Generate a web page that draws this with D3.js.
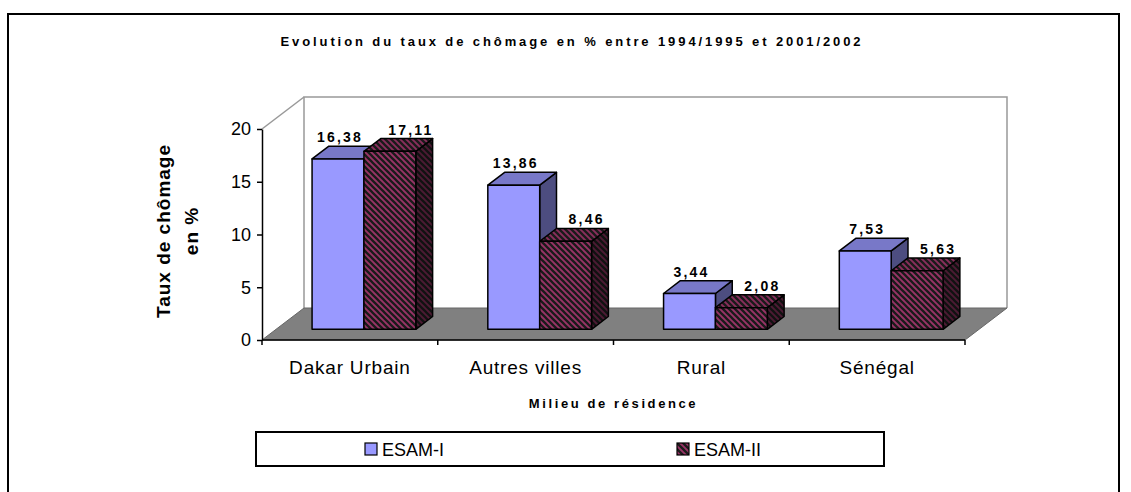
<!DOCTYPE html>
<html><head><meta charset="utf-8">
<script src="https://cdn.jsdelivr.net/npm/d3@7"></script>
<style>body{margin:0;background:#fff}svg{display:block}text{font-family:Arial,"Liberation Sans",sans-serif}</style>
</head><body>
<script>
const categories = ["Dakar Urbain", "Autres villes", "Rural", "Sénégal"];
const seriesNames = ["ESAM-I", "ESAM-II"];
const esam1 = [16.38, 13.86, 3.44, 7.53];
const esam2 = [17.11, 8.46, 2.08, 5.63];
const yTicks = [0, 5, 10, 15, 20];
const chartTitle = "Evolution du taux de chômage en % entre 1994/1995 et 2001/2002";
const yTitle = ["Taux de chômage", "en %"];
const xTitle = "Milieu de résidence";

const W = 1131, H = 492;
const svg = d3.select("body").append("svg").attr("width", W).attr("height", H);
const defs = svg.append("defs");
function stripe(id, bg, fg) {
  const p = defs.append("pattern").attr("id", id).attr("patternUnits", "userSpaceOnUse")
    .attr("width", 6).attr("height", 6);
  p.append("rect").attr("width", 6).attr("height", 6).attr("fill", bg);
  p.append("path").attr("d", "M-1.5,-1.5L7.5,7.5M-1.5,4.5L1.5,7.5M4.5,-1.5L7.5,1.5")
    .attr("stroke", fg).attr("stroke-width", 2.3);
}
stripe("s2front", "#993366", "#1a1a1a");
stripe("s2top", "#8a2e5c", "#1a1a1a");
stripe("s2side", "#4d1a33", "#111");

const styles = [
  {front: "#9999ff", top: "#7878c8", side: "#4d4d80"},
  {front: "url(#s2front)", top: "url(#s2top)", side: "url(#s2side)"}
];
const labelShift = [2, 21];

// outer frame
svg.append("rect").attr("x", 8).attr("y", 14).attr("width", 1111).attr("height", 500)
  .attr("fill", "none").attr("stroke", "#000").attr("stroke-width", 2);

const x = d3.scaleBand().domain(categories).range([262, 965]);
const xs = d3.scaleBand().domain([0, 1]).range([36, x.bandwidth() - 36]);
const y = d3.scaleLinear().domain([0, 20]).range([340, 129]);
const yBar = d3.scaleLinear().domain([0, 20]).range([340, 132]);

const wall = {dx: 42, dy: -32};
const f0 = 0.335, fd = 0.4;
const ox = wall.dx * f0, oy = wall.dy * f0;
const bdx = wall.dx * fd, bdy = wall.dy * fd;

const [x0, x1] = x.range();
const yb = y(0), yt = y(20);
// back wall
svg.append("path")
  .attr("d", `M${x0 + wall.dx},${yb + wall.dy}L${x0 + wall.dx},${yt + wall.dy}L${x1 + wall.dx},${yt + wall.dy}L${x1 + wall.dx},${yb + wall.dy}`)
  .attr("fill", "#fff").attr("stroke", "#999").attr("stroke-width", 1.5);
// left wall top edge
svg.append("path").attr("d", `M${x0},${yt}L${x0 + wall.dx},${yt + wall.dy}`)
  .attr("stroke", "#999").attr("stroke-width", 1.5).attr("fill", "none");
// floor
svg.append("path")
  .attr("d", `M${x0},${yb}L${x1},${yb}L${x1 + wall.dx},${yb + wall.dy}L${x0 + wall.dx},${yb + wall.dy}Z`)
  .attr("fill", "#808080").attr("stroke", "#666").attr("stroke-width", 1);

// bars
const series = [esam1, esam2];
const gBars = svg.append("g");
categories.forEach((c, i) => {
  series.forEach((vals, s) => {
    const v = vals[i];
    const bx = x(c) + xs(s) + ox, bw = xs.bandwidth();
    const top = yBar(v) + oy, bot = yBar(0) + oy;
    const g = gBars.append("g").attr("stroke", "#000").attr("stroke-width", 1.5).attr("stroke-linejoin", "round");
    g.append("path").attr("fill", styles[s].side)
      .attr("d", `M${bx + bw},${top}L${bx + bw + bdx},${top + bdy}L${bx + bw + bdx},${bot + bdy}L${bx + bw},${bot}Z`);
    g.append("path").attr("fill", styles[s].top)
      .attr("d", `M${bx},${top}L${bx + bw},${top}L${bx + bw + bdx},${top + bdy}L${bx + bdx},${top + bdy}Z`);
    g.append("rect").attr("x", bx).attr("y", top).attr("width", bw).attr("height", bot - top)
      .attr("fill", styles[s].front);
    svg.append("text").attr("x", bx + bw / 2 + labelShift[s]).attr("y", top + bdy - 4)
      .attr("text-anchor", "middle").attr("font-size", 14).attr("font-weight", "bold")
      .attr("letter-spacing", 2.2)
      .text(v.toFixed(2).replace(".", ","));
  });
});

// y axis
const yAxis = svg.append("g").attr("transform", `translate(${x0},0)`)
  .call(d3.axisLeft(y).tickValues(yTicks).tickSize(5).tickPadding(6).tickSizeOuter(0));
yAxis.select(".domain").attr("stroke", "#000").attr("stroke-width", 1.5);
yAxis.selectAll(".tick line").attr("stroke", "#000").attr("stroke-width", 1.5);
yAxis.selectAll("text").attr("font-size", 18).attr("font-family", "Arial,'Liberation Sans',sans-serif").attr("fill", "#000");

// x axis
svg.append("line").attr("x1", x0).attr("x2", x1).attr("y1", yb).attr("y2", yb)
  .attr("stroke", "#000").attr("stroke-width", 1.5);
svg.selectAll(".xtick").data(categories.map(c => x(c)).concat([x1])).enter().append("line")
  .attr("x1", d => d).attr("x2", d => d).attr("y1", yb).attr("y2", yb + 5)
  .attr("stroke", "#000").attr("stroke-width", 1.5);
svg.selectAll(".xlab").data(categories).enter().append("text")
  .attr("x", d => x(d) + x.bandwidth() / 2).attr("y", 374)
  .attr("text-anchor", "middle").attr("font-size", 19).attr("letter-spacing", 0.8).text(d => d);

// titles
svg.append("text").attr("x", 572).attr("y", 46).attr("text-anchor", "middle")
  .attr("font-size", 13).attr("font-weight", "bold").attr("letter-spacing", 2.9).text(chartTitle);
svg.append("text").attr("x", (x0 + x1) / 2).attr("y", 408).attr("text-anchor", "middle")
  .attr("font-size", 13).attr("font-weight", "bold").attr("letter-spacing", 2.6).text(xTitle);
const yt1 = svg.append("text").attr("transform", "translate(170,231) rotate(-90)")
  .attr("text-anchor", "middle").attr("font-size", 19).attr("font-weight", "bold").attr("letter-spacing", 1);
yTitle.forEach((t, i) => yt1.append("tspan").attr("x", 0).attr("dy", i === 0 ? 0 : 28).text(t));

// legend
svg.append("rect").attr("x", 256).attr("y", 432).attr("width", 628).attr("height", 34)
  .attr("fill", "#fff").attr("stroke", "#000").attr("stroke-width", 2);
const legX = [365, 677];
seriesNames.forEach((n, s) => {
  svg.append("rect").attr("x", legX[s]).attr("y", 443).attr("width", 12).attr("height", 12)
    .attr("fill", styles[s].front).attr("stroke", "#000").attr("stroke-width", 1.2);
  svg.append("text").attr("x", legX[s] + 17).attr("y", 456).attr("font-size", 18).text(n);
});
</script>
</body></html>
